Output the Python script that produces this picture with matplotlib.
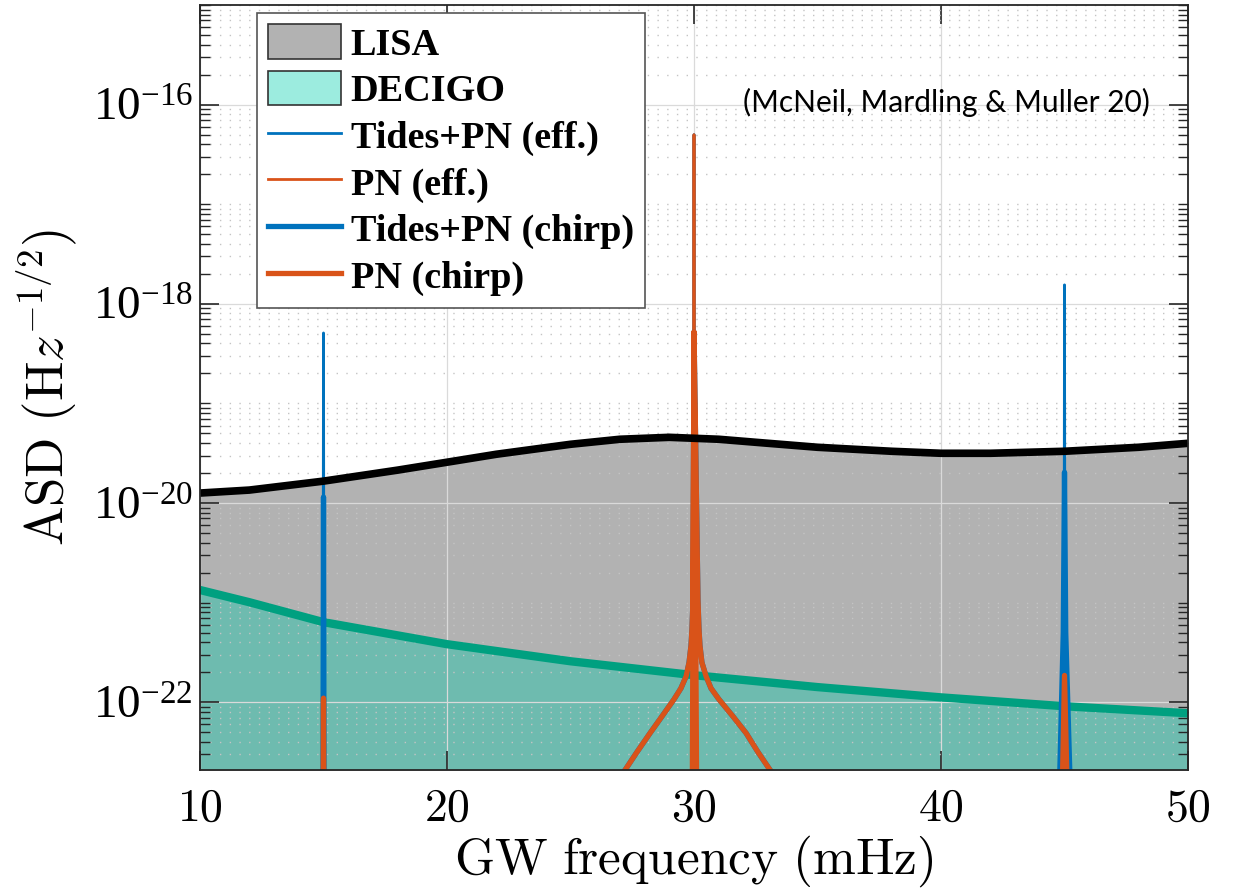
import numpy as np
import matplotlib
matplotlib.use('Agg')
import matplotlib.pyplot as plt
from matplotlib.patches import Patch
from matplotlib.ticker import LogLocator, FixedLocator, NullFormatter

plt.rcParams['font.family'] = 'Liberation Serif'
plt.rcParams['mathtext.fontset'] = 'cm'

nan = np.nan

# LISA sensitivity curve (mHz, ASD)
freq_lisa = [10, 12, 15, 18, 20, 22, 25, 27, 29, 31, 33, 35, 38, 40, 42, 45, 48, 50]
asd_lisa = [1.26e-20, 1.35e-20, 1.66e-20, 2.14e-20, 2.57e-20, 3.09e-20, 3.89e-20, 4.37e-20,
            4.57e-20, 4.37e-20, 3.98e-20, 3.63e-20, 3.31e-20, 3.16e-20, 3.16e-20, 3.31e-20,
            3.63e-20, 3.98e-20]

# DECIGO sensitivity curve
freq_decigo = [10, 12, 15, 20, 25, 30, 35, 40, 45, 50]
asd_decigo = [1.34e-21, 1.01e-21, 6.37e-22, 3.83e-22, 2.58e-22, 1.87e-22, 1.42e-22,
              1.12e-22, 9.12e-23, 7.76e-23]

# harmonics, effective amplitude (thin lines)
freq_tides_eff = [14.97, 15.0, 15.03, nan, 29.97, 30.0, 30.03, nan, 44.97, 45.0, 45.03]
asd_tides_eff = [1e-24, 5.1e-19, 1e-24, nan, 1e-24, 5.0e-17, 1e-24, nan, 1e-24, 1.55e-18, 1e-24]

freq_pn_eff = [14.97, 15.0, 15.03, nan, 29.97, 30.0, 30.03, nan, 44.97, 45.0, 45.03]
asd_pn_eff = [1e-24, 1.0e-22, 1e-24, nan, 1e-24, 5.0e-17, 1e-24, nan, 1e-24, 1.6e-22, 1e-24]

# the resonance around the 30 mHz harmonic (chirp amplitude)
freq_peak30 = [26.88, 27.21, 27.69, 28.22, 28.70, 29.19, 29.47, 29.68, 29.80, 29.88, 29.92, 29.96,
               30.0,
               30.16, 30.20, 30.24, 30.32, 30.49, 30.69, 31.01, 31.58, 32.11, 32.59, 33.08, 33.44]
asd_peak30 = [1.66e-23, 2.09e-23, 3.16e-23, 4.9e-23, 7.2e-23, 1.07e-22, 1.38e-22, 1.82e-22,
              2.51e-22, 3.72e-22, 5.5e-22, 1.07e-21,
              5.2e-19,
              1.07e-21, 5.5e-22, 3.72e-22, 2.51e-22, 1.82e-22, 1.38e-22, 1.07e-22, 7.2e-23,
              4.9e-23, 3.16e-23, 2.09e-23, 1.66e-23]

# harmonics, chirp amplitude (thick lines)
freq_tides_chirp = [14.97, 15.0, 15.03, nan] + freq_peak30 + [nan, 44.78, 44.95, 45.0, 45.05, 45.25]
asd_tides_chirp = [1e-24, 1.15e-20, 1e-24, nan] + asd_peak30 + [nan, 1e-23, 5e-22, 2.04e-20, 5e-22, 1e-23]

freq_pn_chirp = ([14.97, 15.0, 15.03, nan] + freq_peak30 +
                 [nan, 29.93, 30.0, 30.11, nan, 44.9, 45.0, 45.12])
asd_pn_chirp = ([1e-24, 1.1e-22, 1e-24, nan] + asd_peak30 +
                [nan, 1e-23, 5.2e-19, 1e-23, nan, 1e-23, 1.86e-22, 1e-23])

xtick_values = [10, 20, 30, 40, 50]
ytick_values = [1e-22, 1e-20, 1e-18, 1e-16]
ytick_labels = ['-22', '-20', '-18', '-16']
legend_labels = ['LISA', 'DECIGO', 'Tides+PN (eff.)', 'PN (eff.)', 'Tides+PN (chirp)', 'PN (chirp)']

blue = '#0072BD'
orange = '#D95319'
lisa_gray = '#B2B2B2'
decigo_face = (0.0, 0.80, 0.67, 0.38)
decigo_line = '#00A080'

ymin, ymax = 10 ** -22.68, 1e-15

fig = plt.figure(figsize=(12.35, 8.91), dpi=100)
ax = fig.add_axes([200 / 1235, 1 - 770 / 891, 988 / 1235, 765 / 891])
ax.set_yscale('log')

ax.fill_between(freq_lisa, asd_lisa, ymin / 10, color=lisa_gray, lw=0, zorder=1)
ax.fill_between(freq_decigo, asd_decigo, ymin / 10, facecolor=decigo_face, lw=0, zorder=1.1)
ax.plot(freq_decigo, asd_decigo, color=decigo_line, lw=6, zorder=2.8, solid_capstyle='butt')

l1, = ax.plot(freq_tides_eff, asd_tides_eff, color=blue, lw=2.0, zorder=3)
l2, = ax.plot(freq_pn_eff, asd_pn_eff, color=orange, lw=2.0, zorder=3.1)
l3, = ax.plot(freq_tides_chirp, asd_tides_chirp, color=blue, lw=3.8, zorder=3.2)
l4, = ax.plot(freq_pn_chirp, asd_pn_chirp, color=orange, lw=3.8, zorder=3.3)

ax.plot(freq_lisa, asd_lisa, color='black', lw=5.5, zorder=3.5, solid_capstyle='butt')

ax.set_xlim(10, 50)
ax.set_ylim(ymin, ymax)

# ticks
ax.set_xticks(xtick_values)
ax.set_xticklabels([r'$\mathrm{%d}$' % v for v in xtick_values], fontsize=33)
ax.yaxis.set_major_locator(FixedLocator(ytick_values))
ax.set_yticklabels([r'$\mathregular{10^{%s}}$' % s for s in ytick_labels], fontsize=34)
ax.yaxis.set_minor_locator(LogLocator(base=10, subs=np.arange(1, 10), numticks=100))
ax.yaxis.set_minor_formatter(NullFormatter())
ax.tick_params(axis='both', which='major', direction='in', length=14, width=1.2,
               top=True, right=True, color='#262626')
ax.tick_params(axis='y', which='major', pad=5)
ax.tick_params(axis='x', which='major', pad=13)
ax.tick_params(axis='y', which='minor', direction='in', length=7, width=1.0,
               left=True, right=True, color='#262626')

ax.set_axisbelow(False)
ax.grid(True, which='major', color='#DADADA', lw=0.9, ls='-')
ax.grid(True, which='minor', axis='y', color='#C4C4C4', lw=1.0, ls=(0, (1, 6)))

for s in ax.spines.values():
    s.set_color('#262626')
    s.set_linewidth(1.3)
    s.set_zorder(5)

ax.set_xlabel(r'$\mathrm{GW\ frequency\ (mHz)}$', fontsize=37, labelpad=2)
ax.set_ylabel(r'$\mathrm{ASD\ (H}z^{-1/2}\mathrm{)}$', fontsize=38, labelpad=10)

handles = [Patch(facecolor=lisa_gray, edgecolor='#333333', lw=1.2),
           Patch(facecolor=(0.61, 0.925, 0.875), edgecolor='#333333', lw=1.2),
           l1, l2, l3, l4]
leg = ax.legend(handles, legend_labels, loc='upper left', bbox_to_anchor=(0.0577, 0.9895),
                prop={'family': 'Liberation Serif', 'size': 27.5, 'weight': 'bold'},
                frameon=True, fancybox=False, framealpha=1, edgecolor='#555555',
                borderpad=0.3, borderaxespad=0, handlelength=1.9, handleheight=1.0,
                handletextpad=0.25, labelspacing=0.22)
leg.get_frame().set_linewidth(1.2)
leg.set_zorder(6)

ax.text(0.756, 0.872, '(McNeil, Mardling & Muller 20)', transform=ax.transAxes,
        ha='center', va='center', fontsize=21.5, family='Lato', zorder=6)

fig.savefig('out.png', dpi=100)
